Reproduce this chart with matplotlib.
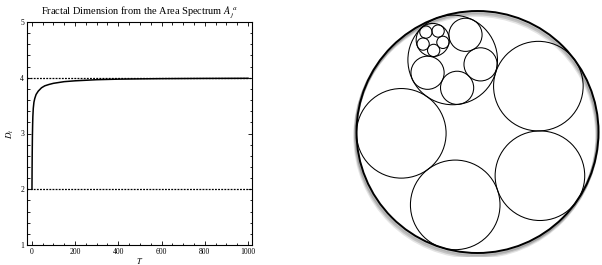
import numpy as np
import matplotlib
matplotlib.use("Agg")
import matplotlib.pyplot as plt
from matplotlib.patches import Circle
from matplotlib.ticker import MultipleLocator

# curve
T = [1, 1.5, 2, 3, 4, 5, 7, 10, 14, 20, 30, 45, 60, 80, 100, 125, 150,
     200, 250, 300, 400, 500, 600, 800, 1000]
D = [2.0, 2.35, 2.6, 2.95, 3.15, 3.3, 3.45, 3.56, 3.63, 3.7, 3.76, 3.82,
     3.855, 3.88, 3.9, 3.915, 3.93, 3.945, 3.955, 3.965, 3.975, 3.98,
     3.984, 3.988, 3.99]
bounds = [2, 4]
xticks = [0, 200, 400, 600, 800, 1000]
yticks = [1, 2, 3, 4, 5]

# circle packing: 5 circles per level, first one of each level is refilled
n_circles = 5
start_angle = [109, 135, 131]   # degrees, where the refilled circle sits

plt.rcParams['font.family'] = ['Liberation Serif', 'DejaVu Serif']
plt.rcParams['mathtext.fontset'] = 'stix'

fig = plt.figure(figsize=(6.02, 2.65), dpi=100)

# ---- left: fractal dimension curve
ax = fig.add_axes([27 / 602, 1 - 245 / 265, 225 / 602, 223 / 265])
ax.plot(T, D, color='black', lw=1.1)
for b in bounds:
    ax.axhline(b, color='black', lw=0.9, ls=(0, (1.5, 1)))
ax.set_xlim(-22, 1018)
ax.set_ylim(1, 5)
ax.set_xticks(xticks)
ax.set_yticks(yticks)
ax.xaxis.set_minor_locator(MultipleLocator(50))
ax.yaxis.set_minor_locator(MultipleLocator(0.2))
ax.tick_params(which='both', direction='in', top=True, right=True,
               labelsize=5.5, pad=2, width=0.6)
ax.tick_params(which='major', length=3)
ax.tick_params(which='minor', length=1.8)
for s in ax.spines.values():
    s.set_linewidth(0.8)
ax.set_title(r'Fractal Dimension from the Area Spectrum $A_j^{\,a}$',
             fontsize=7.5, pad=6)
ax.set_xlabel(r'$T$', fontsize=6, labelpad=0)
ax.set_ylabel(r'$D_t$', fontsize=6.5, labelpad=3)

# ---- right: nested circles
R = 1.0
cax = fig.add_axes([(477.5 - 125) / 602, 1 - (132 + 125) / 265,
                    250 / 602, 250 / 265])
cax.set_xlim(-125 / 121, 125 / 121)
cax.set_ylim(-125 / 121, 125 / 121)
cax.set_aspect('equal')
cax.axis('off')

# soft shadow toward lower left
for k, a in enumerate([0.10, 0.14, 0.18]):
    off = 0.012 * (3 - k)
    cax.add_patch(Circle((-off * 0.4, -off), R, fill=False,
                         ec='black', lw=2.2, alpha=a))
cax.add_patch(Circle((0, 0), R, fill=False, ec='black', lw=1.4))

ratio = np.sin(np.pi / n_circles) / (1 + np.sin(np.pi / n_circles))


def fill(cx, cy, r, level):
    if level >= len(start_angle):
        return
    rc = r * ratio
    d = r - rc
    for i in range(n_circles):
        ang = np.deg2rad(start_angle[level] + 360 / n_circles * i)
        x, y = cx + d * np.cos(ang), cy + d * np.sin(ang)
        cax.add_patch(Circle((x, y), rc, fill=False, ec='black', lw=0.75))
        if i == 0:
            fill(x, y, rc, level + 1)


fill(0, 0, R, 0)

fig.savefig('out.png', dpi=100)
